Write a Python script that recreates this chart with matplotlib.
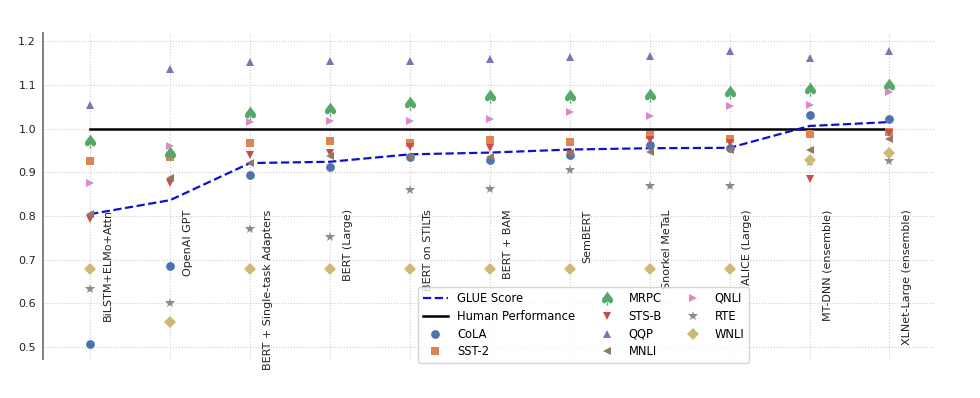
import matplotlib
matplotlib.use("Agg")
import matplotlib.pyplot as plt

models = ["BiLSTM+ELMo+Attn", "OpenAI GPT", "BERT + Single-task Adapters",
          "BERT (Large)", "BERT on STILTs", "BERT + BAM", "SemBERT",
          "Snorkel MeTaL", "ALICE (Large)", "MT-DNN (ensemble)",
          "XLNet-Large (ensemble)"]

# scores relative to human performance
glue = [0.804, 0.836, 0.921, 0.924, 0.941, 0.945, 0.952, 0.955, 0.956, 1.006, 1.015]
human = [1.0] * len(models)

cola = [0.507, 0.684, 0.893, 0.912, 0.935, 0.928, 0.940, 0.962, 0.956, 1.031, 1.022]
sst2 = [0.925, 0.934, 0.966, 0.972, 0.966, 0.975, 0.969, 0.986, 0.976, 0.987, 0.992]
mrpc = [0.972, 0.945, 1.036, 1.046, 1.059, 1.074, 1.074, 1.077, 1.084, 1.090, 1.101]
stsb = [0.792, 0.875, 0.939, 0.943, 0.957, 0.956, 0.942, 0.973, 0.966, 0.884, 0.989]
qqp = [1.054, 1.136, 1.152, 1.155, 1.154, 1.160, 1.163, 1.166, 1.177, 1.161, 1.177]
mnli = [0.805, 0.886, 0.921, 0.937, 0.934, 0.934, 0.943, 0.947, 0.950, 0.950, 0.976]
qnli = [0.876, 0.960, 1.015, 1.018, 1.018, 1.022, 1.038, 1.030, 1.051, 1.053, 1.083]
rte = [0.633, 0.601, 0.769, 0.752, 0.859, 0.862, 0.906, 0.868, 0.868, 0.924, 0.925]
wnli = [0.679, 0.557, 0.679, 0.679, 0.679, 0.679, 0.679, 0.679, 0.679, 0.929, 0.943]

tasks = [("CoLA", cola, "o", "#4C72B0"),
         ("SST-2", sst2, "s", "#DD8452"),
         ("MRPC", mrpc, r"$\spadesuit$", "#55A868"),
         ("STS-B", stsb, "v", "#C44E52"),
         ("QQP", qqp, "^", "#8172B3"),
         ("MNLI", mnli, "<", "#937860"),
         ("QNLI", qnli, ">", "#DA8BC3"),
         ("RTE", rte, "*", "#8C8C8C"),
         ("WNLI", wnli, "D", "#CCB974")]

x = list(range(len(models)))

fig = plt.figure(figsize=(9.8, 3.98), dpi=100)
ax = fig.add_axes([0.0439, 0.098, 0.9102, 0.819])

ax.plot(x, glue, "--", color="#1010d0", lw=1.6, label="GLUE Score", zorder=3)
ax.plot(x, human, "-", color="black", lw=1.8, label="Human Performance", zorder=2)

for name, vals, mk, col in tasks:
    if mk.startswith("$"):
        ms = 10
    elif mk == "*":
        ms = 7.5
    else:
        ms = 6.3
    ax.plot(x, vals, linestyle="none", marker=mk, color=col, ms=ms,
            markeredgewidth=0, label=name, zorder=4)

for i, m in enumerate(models):
    ax.text(i + 0.16, 0.815, m, rotation=90, ha="left", va="top",
            fontsize=8, color="#222222")

ax.set_xlim(-0.59, 10.57)
ax.set_ylim(0.472, 1.219)
ax.set_xticks(x)
ax.set_xticklabels([])
ax.set_yticks([0.5, 0.6, 0.7, 0.8, 0.9, 1.0, 1.1, 1.2])
ax.tick_params(axis="both", length=0, labelsize=8, colors="#222222", pad=5)
ax.grid(True, linestyle=":", color="#cccccc", lw=0.8)
ax.set_axisbelow(True)
for s in ["top", "right", "bottom"]:
    ax.spines[s].set_visible(False)
ax.spines["left"].set_color("#777777")
ax.spines["left"].set_linewidth(1.3)

leg = ax.legend(ncol=3, loc="lower left", bbox_to_anchor=(0.414, -0.03),
                fontsize=8.3, frameon=True, columnspacing=1.6, handlelength=2.2,
                labelspacing=0.42, borderpad=0.4)
leg.get_frame().set_edgecolor("#cccccc")

fig.savefig("out.png", dpi=100)
